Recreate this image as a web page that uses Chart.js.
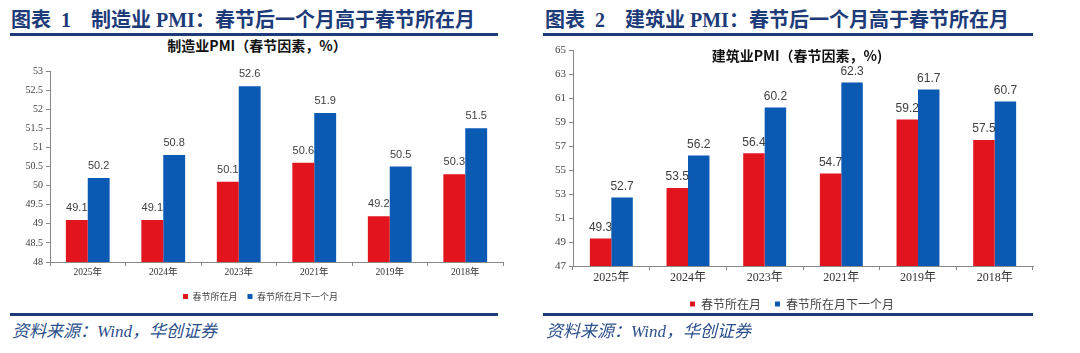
<!DOCTYPE html>
<html>
<head>
<meta charset="utf-8">
<script src="https://cdn.jsdelivr.net/npm/chart.js@4.4.0/dist/chart.umd.min.js"></script>
<style>
  body { margin: 0; background: #fff; width: 1080px; height: 353px; overflow: hidden; position: relative; }
  .head { position: absolute; top: 6px; font: bold 20px "Liberation Serif", "Noto Sans CJK SC"; color: #1d3b78; white-space: pre; line-height: 28px; }
  .rule { position: absolute; height: 3px; background: #1d3b78; }
  .src { position: absolute; top: 320px; font: italic 17px "Liberation Serif", "Noto Sans CJK SC"; color: #2b4f8c; white-space: pre; line-height: 24px; }
  .ctitle { position: absolute; font: bold 14px "Noto Sans CJK SC"; color: #111; white-space: pre; transform: translateX(-50%); line-height: 16px; }
  canvas { position: absolute; }
</style>
</head>
<body>
<div class="head" style="left:11px">图表  1    制造业 PMI：春节后一个月高于春节所在月</div>
<div class="head" style="left:545px">图表  2    建筑业 PMI：春节后一个月高于春节所在月</div>
<div class="rule" style="left:10px; width:488px; top:33px"></div>
<div class="rule" style="left:543px; width:490px; top:33px"></div>

<div style="position:absolute; left:0; top:60px; width:520px; height:251px"><canvas id="chart1"></canvas></div>
<div style="position:absolute; left:540px; top:40px; width:504px; height:280px"><canvas id="chart2"></canvas></div>

<div class="ctitle" style="left:257px; top:37px">制造业PMI（春节因素，%）</div>
<div class="ctitle" style="left:797px; top:47px">建筑业PMI（春节因素，%)</div>

<div class="rule" style="left:10px; width:488px; top:313px"></div>
<div class="rule" style="left:543px; width:490px; top:313px"></div>
<div class="src" style="left:12px">资料来源：Wind，华创证券</div>
<div class="src" style="left:546px">资料来源：Wind，华创证券</div>

<script>
const years = ['2025年', '2024年', '2023年', '2021年', '2019年', '2018年'];
const seriesNames = ['春节所在月', '春节所在月下一个月'];

const mfgHoliday = [49.1, 49.1, 50.1, 50.6, 49.2, 50.3];
const mfgNext = [50.2, 50.8, 52.6, 51.9, 50.5, 51.5];
const mfgTicks = [48, 48.5, 49, 49.5, 50, 50.5, 51, 51.5, 52, 52.5, 53];

const conHoliday = [49.3, 53.5, 56.4, 54.7, 59.2, 57.5];
const conNext = [52.7, 56.2, 60.2, 62.3, 61.7, 60.7];
const conTicks = [47, 49, 51, 53, 55, 57, 59, 61, 63, 65];

const RED = '#e2141d';
const BLUE = '#0a5ab4';

// labels above each bar
const barLabels = {
  id: 'barLabels',
  afterDatasetsDraw(chart, args, opts) {
    const ctx = chart.ctx;
    ctx.save();
    ctx.font = opts.font;
    ctx.fillStyle = '#404040';
    ctx.textAlign = 'center';
    ctx.textBaseline = 'middle';
    chart.data.datasets.forEach((ds, i) => {
      chart.getDatasetMeta(i).data.forEach((bar, j) => {
        ctx.fillText(ds.data[j].toFixed(1), bar.x, bar.y - opts.offset);
      });
    });
    ctx.restore();
  }
};

function makeChart(id, red, blue, tickVals, o) {
  return new Chart(document.getElementById(id), {
    type: 'bar',
    data: {
      labels: years,
      datasets: [
        { label: seriesNames[0], data: red, backgroundColor: RED },
        { label: seriesNames[1], data: blue, backgroundColor: BLUE }
      ]
    },
    options: {
      responsive: true,
      maintainAspectRatio: false,
      animation: false,
      categoryPercentage: o.catPct,
      barPercentage: 1,
      layout: { padding: { left: o.padLeft, right: o.padRight, top: o.padTop, bottom: 0 } },
      plugins: {
        legend: {
          position: 'bottom',
          labels: {
            boxWidth: 5, boxHeight: 5, padding: o.legendPad,
            color: '#444',
            font: { family: 'Noto Sans CJK SC', size: o.legendSize }
          }
        },
        tooltip: { enabled: false },
        barLabels: { font: o.labelSize + 'px "Liberation Sans"', offset: o.labelOffset }
      },
      scales: {
        x: {
          grid: { drawOnChartArea: false, tickLength: 4, color: '#888', offset: true },
          border: { color: '#888' },
          ticks: { padding: 1, color: '#333', font: { family: '"Liberation Serif", "Noto Sans CJK SC"', size: o.xSize } },
          afterFit(s) { s.height = o.xHeight; }
        },
        y: {
          min: tickVals[0],
          max: tickVals[tickVals.length - 1],
          grid: { drawOnChartArea: false, tickLength: 4, color: '#888' },
          border: { color: '#888' },
          ticks: {
            padding: 3, color: '#444', font: { family: 'Liberation Serif', size: o.ySize },
            callback: v => String(v)
          },
          afterBuildTicks(s) { s.ticks = tickVals.map(v => ({ value: v })); },
          afterFit(s) { s.width = o.yWidth; }
        }
      }
    },
    plugins: [barLabels]
  });
}

makeChart('chart1', mfgHoliday, mfgNext, mfgTicks, {
  catPct: 0.58, padLeft: 18, padRight: 17, padTop: 11, legendPad: 10, legendSize: 9,
  labelSize: 11, labelOffset: 12, xSize: 9.5, xHeight: 20, ySize: 10, yWidth: 32
});
makeChart('chart2', conHoliday, conNext, conTicks, {
  catPct: 0.56, padLeft: 11, padRight: 11, padTop: 10, legendPad: 14, legendSize: 12,
  labelSize: 12, labelOffset: 11, xSize: 12, xHeight: 18, ySize: 11, yWidth: 22
});
</script>
</body>
</html>
